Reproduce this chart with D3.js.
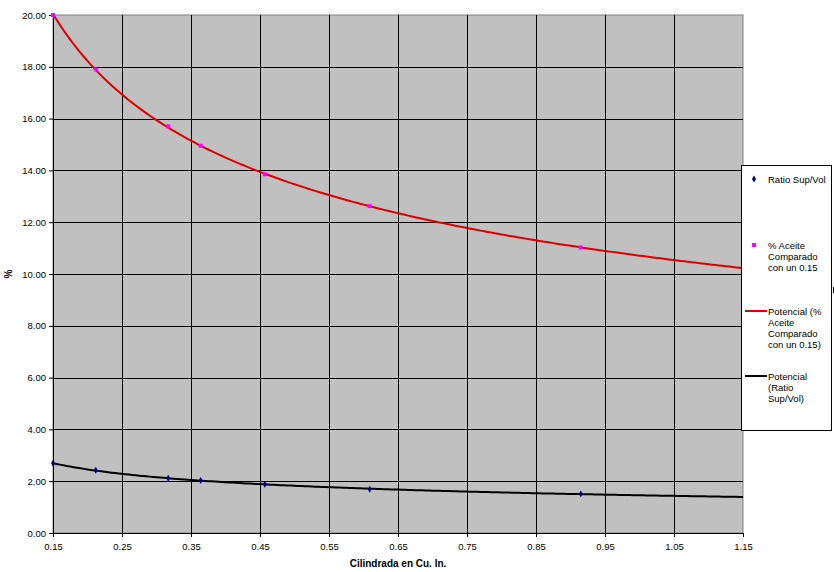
<!DOCTYPE html>
<html>
<head>
<meta charset="utf-8">
<script src="https://cdn.jsdelivr.net/npm/d3@7"></script>
<style>
  body { margin: 0; background: #fff; }
  text { font-family: Arial, "Liberation Sans", sans-serif; }
</style>
</head>
<body>
<div id="chart-area"></div>
<script>
// values
const cilindrada = [0.15, 0.212, 0.317, 0.364, 0.457, 0.609, 0.915];
const ratioSupVol = [2.69, 2.42, 2.11, 2.03, 1.88, 1.69, 1.51];
const aceite = [20.0, 17.9, 15.7, 14.95, 13.85, 12.62, 11.02];
const xTicks = [0.15, 0.25, 0.35, 0.45, 0.55, 0.65, 0.75, 0.85, 0.95, 1.05, 1.15];
const yTicks = [0, 2, 4, 6, 8, 10, 12, 14, 16, 18, 20];

const widthSvg = 834;
const heightSvg = 572;
const margin = { top: 15, right: 91, bottom: 39, left: 53 };
const widthChart = widthSvg - margin.left - margin.right;
const heightChart = heightSvg - margin.top - margin.bottom;

// power trend y = a * x^b, least squares in log-log space (like Excel)
const powerFit = (xs, ys) => {
  const lx = xs.map(Math.log), ly = ys.map(Math.log);
  const mx = d3.mean(lx), my = d3.mean(ly);
  const b = d3.sum(lx, (v, i) => (v - mx) * (ly[i] - my)) / d3.sum(lx, v => (v - mx) ** 2);
  const a = Math.exp(my - b * mx);
  return x => a * Math.pow(x, b);
};

const scaleX = d3.scaleLinear().domain([0.15, 1.15]).range([0, widthChart]);
const scaleY = d3.scaleLinear().domain([0, 20]).range([heightChart, 0]);

const svg = d3.select('#chart-area').append('svg')
  .attr('width', widthSvg)
  .attr('height', heightSvg);

const chart = svg.append('g')
  .attr('transform', `translate(${margin.left}, ${margin.top})`);

chart.append('rect')
  .attr('width', widthChart)
  .attr('height', heightChart)
  .attr('fill', '#c0c0c0')
  .attr('stroke', '#808080');

// grid
chart.append('g')
  .selectAll('line.gx')
  .data(xTicks.slice(1, -1))
  .join('line')
    .attr('x1', d => Math.round(scaleX(d)) + 0.5)
    .attr('x2', d => Math.round(scaleX(d)) + 0.5)
    .attr('y1', 0)
    .attr('y2', heightChart)
    .attr('stroke', '#000');

chart.append('g')
  .selectAll('line.gy')
  .data(yTicks.slice(1, -1))
  .join('line')
    .attr('x1', 0)
    .attr('x2', widthChart)
    .attr('y1', d => Math.round(scaleY(d)) + 0.5)
    .attr('y2', d => Math.round(scaleY(d)) + 0.5)
    .attr('stroke', '#000');

// axes
const axisX = d3.axisBottom(scaleX).tickValues(xTicks).tickSize(4).tickFormat(d3.format('.2f'));
const axisY = d3.axisLeft(scaleY).tickValues(yTicks).tickSize(4).tickFormat(d3.format('.2f'));

const axisGroupX = chart.append('g')
  .attr('transform', `translate(0, ${heightChart})`)
  .call(axisX);
const axisGroupY = chart.append('g').call(axisY);

[axisGroupX, axisGroupY].forEach(g => {
  g.select('.domain').attr('stroke', '#000');
  g.selectAll('.tick line').attr('stroke', '#000');
  g.selectAll('.tick text')
    .attr('font-family', 'Arial, "Liberation Sans", sans-serif')
    .attr('font-size', '9.5px')
    .attr('fill', '#000');
});
axisGroupX.selectAll('.tick text').attr('dy', '1.1em');

chart.append('text')
  .text('Cilindrada en Cu. In.')
    .attr('transform', `translate(${widthChart / 2}, ${heightChart + 34})`)
    .attr('text-anchor', 'middle')
    .attr('font-size', '10px')
    .attr('font-weight', 'bold');

chart.append('text')
  .text('%')
    .attr('transform', `translate(-41, ${heightChart / 2})rotate(-90)`)
    .attr('text-anchor', 'middle')
    .attr('font-size', '10px')
    .attr('font-weight', 'bold');

// trend lines
const sampleX = d3.range(0.15, 1.1501, 0.005);
const line = fn => d3.line()
  .x(d => scaleX(d))
  .y(d => scaleY(fn(d)))(sampleX);

const fitAceite = powerFit(cilindrada, aceite);
const fitRatio = powerFit(cilindrada, ratioSupVol);

chart.append('path')
  .attr('d', line(fitAceite))
  .attr('fill', 'none')
  .attr('stroke', '#e00000')
  .attr('stroke-width', 2);

chart.append('path')
  .attr('d', line(fitRatio))
  .attr('fill', 'none')
  .attr('stroke', '#000')
  .attr('stroke-width', 2);

// points
chart.append('g')
  .selectAll('rect')
  .data(cilindrada)
  .join('rect')
    .attr('x', d => scaleX(d) - 2)
    .attr('y', (d, i) => scaleY(aceite[i]) - 2)
    .attr('width', 4)
    .attr('height', 4)
    .attr('fill', '#ff00ff');

const diamond = d3.symbol().type(d3.symbolDiamond).size(14);
chart.append('g')
  .selectAll('path')
  .data(cilindrada)
  .join('path')
    .attr('d', diamond)
    .attr('transform', (d, i) => `translate(${scaleX(d)}, ${scaleY(ratioSupVol[i])})`)
    .attr('fill', '#000080');

// legend
const legend = svg.append('g').attr('transform', 'translate(741, 165)');
legend.append('rect')
  .attr('x', 0.5).attr('y', 0.5)
  .attr('width', 90).attr('height', 265)
  .attr('fill', '#fff')
  .attr('stroke', '#000');

const legendItems = [
  { kind: 'diamond', color: '#000080', y: 14, lines: ['Ratio Sup/Vol'] },
  { kind: 'square', color: '#ff00ff', y: 80, lines: ['% Aceite', 'Comparado', 'con un 0.15'] },
  { kind: 'line', color: '#e00000', y: 146, lines: ['Potencial (%', 'Aceite', 'Comparado', 'con un 0.15)'] },
  { kind: 'line', color: '#000', y: 211, lines: ['Potencial', '(Ratio', 'Sup/Vol)'] },
];

legendItems.forEach(item => {
  const g = legend.append('g');
  if (item.kind === 'diamond') {
    g.append('path').attr('d', diamond)
      .attr('transform', `translate(13, ${item.y})`).attr('fill', item.color);
  } else if (item.kind === 'square') {
    g.append('rect').attr('x', 11).attr('y', item.y - 2)
      .attr('width', 4).attr('height', 4).attr('fill', item.color);
  } else {
    g.append('line').attr('x1', 4).attr('x2', 26)
      .attr('y1', item.y).attr('y2', item.y)
      .attr('stroke', item.color).attr('stroke-width', 2);
  }
  g.append('text')
    .attr('x', 27)
    .attr('y', item.y + 3.5)
    .attr('font-size', '9.5px')
    .selectAll('tspan')
    .data(item.lines)
    .join('tspan')
      .attr('x', 27)
      .attr('dy', (d, i) => i === 0 ? 0 : 11)
      .text(d => d);
});

svg.append('line')
  .attr('x1', 833.5).attr('x2', 833.5)
  .attr('y1', 287).attr('y2', 293)
  .attr('stroke', '#000');
</script>
</body>
</html>
